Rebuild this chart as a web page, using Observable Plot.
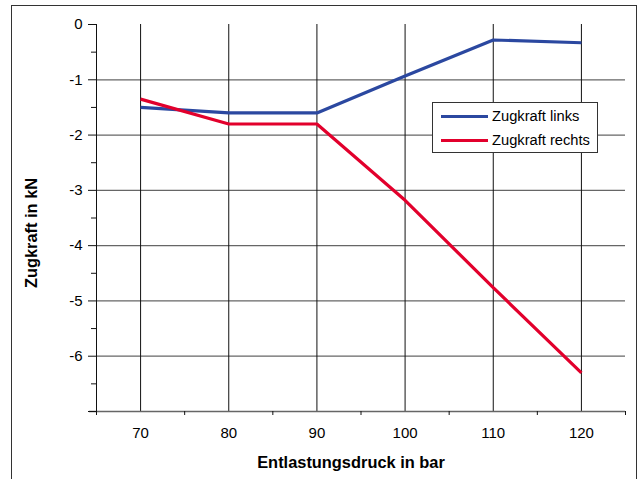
<!DOCTYPE html>
<html>
<head>
<meta charset="utf-8">
<script src="https://cdn.jsdelivr.net/npm/d3@7"></script>
<script src="https://cdn.jsdelivr.net/npm/@observablehq/plot@0.6"></script>
<style>
  body { margin: 0; background: #fff; font-family: "Liberation Sans", Arial, sans-serif; }
  #frame { position: absolute; left: 11px; top: 5px; width: 626px; height: 520px; border: 1.5px solid #333; box-sizing: border-box; }
  #chart { position: absolute; left: 0; top: 0; }
  #legend { position: absolute; left: 432px; top: 102px; width: 166px; height: 51px; border: 1px solid #333; background: #fff; box-sizing: border-box; font-size: 14.7px; color: #000; }
  .row { position: absolute; left: 8px; height: 20px; display: flex; align-items: center; }
  .sw { width: 47px; height: 3px; margin-right: 4px; }
</style>
</head>
<body>
<div id="frame"></div>
<div id="chart"></div>
<div id="legend"></div>
<script>
const pressures = [70, 80, 90, 100, 110, 120];
const links = [-1.5, -1.6, -1.6, -0.93, -0.28, -0.33];
const rechts = [-1.35, -1.8, -1.8, -3.18, -4.76, -6.3];
const seriesNames = ["Zugkraft links", "Zugkraft rechts"];
const seriesColors = ["#2b48a0", "#e2002c"];
const yMajor = [0, -1, -2, -3, -4, -5, -6, -7];
const yLabels = [0, -1, -2, -3, -4, -5, -6];
const yMinor = [-0.5, -1.5, -2.5, -3.5, -4.5, -5.5, -6.5];
const xMajor = [70, 80, 90, 100, 110, 120];
const xMinor = [65, 75, 85, 95, 105, 115, 125];
const yGrid = [-1, -2, -3, -4, -5, -6];

const data = [];
pressures.forEach((p, i) => {
  data.push({x: p, y: links[i], s: seriesNames[0]});
  data.push({x: p, y: rechts[i], s: seriesNames[1]});
});

const chart = Plot.plot({
  width: 638,
  height: 479,
  marginLeft: 96,
  marginRight: 13,
  marginTop: 24,
  marginBottom: 68,
  style: {fontFamily: "'Liberation Sans', Arial, sans-serif", fontSize: "15px", color: "#000", background: "transparent"},
  x: {domain: [65, 125], label: null},
  y: {domain: [-7, 0], label: null},
  color: {domain: seriesNames, range: seriesColors},
  marks: [
    Plot.ruleY(yGrid, {stroke: "#666", strokeWidth: 1.2}),
    Plot.ruleX(xMajor, {stroke: "#111", strokeWidth: 1}),
    Plot.ruleY([-7], {stroke: "#666", strokeWidth: 1.5, insetLeft: -7}),
    Plot.ruleX([65], {stroke: "#111", strokeWidth: 1}),
    Plot.axisY(yMajor, {tickSize: 8, tickFormat: () => "", stroke: "#111", label: null}),
    Plot.axisY(yMinor, {tickSize: 5, tickFormat: () => "", stroke: "#111", label: null}),
    Plot.axisY(yLabels, {tickSize: 0, tickPadding: 14, tickFormat: d => String(d), fontSize: 15, label: null}),
    Plot.axisX(xMinor, {tickSize: 4, tickFormat: () => "", stroke: "#111", label: null}),
    Plot.axisX(xMajor, {tickSize: 0, tickPadding: 16, tickFormat: d => String(d), fontSize: 15, label: null}),
    Plot.line(data, {x: "x", y: "y", z: "s", stroke: "s", strokeWidth: 3.2, strokeLinejoin: "miter", strokeLinecap: "butt"}),
    Plot.text(["Entlastungsdruck in bar"], {frameAnchor: "bottom", dx: -10, dy: 51, fontWeight: "bold", fontSize: 16.4, lineAnchor: "middle", textAnchor: "middle"}),
    Plot.text(["Zugkraft in kN"], {frameAnchor: "left", dx: -65, dy: 15, rotate: -90, fontWeight: "bold", fontSize: 16.4, lineAnchor: "middle", textAnchor: "middle"})
  ]
});
document.getElementById("chart").appendChild(chart);

const legend = document.getElementById("legend");
seriesNames.forEach((name, i) => {
  const row = document.createElement("div");
  row.className = "row";
  row.style.top = (3 + i * 24) + "px";
  const sw = document.createElement("div");
  sw.className = "sw";
  sw.style.background = seriesColors[i];
  const t = document.createElement("span");
  t.textContent = name;
  row.appendChild(sw);
  row.appendChild(t);
  legend.appendChild(row);
});
</script>
</body>
</html>
